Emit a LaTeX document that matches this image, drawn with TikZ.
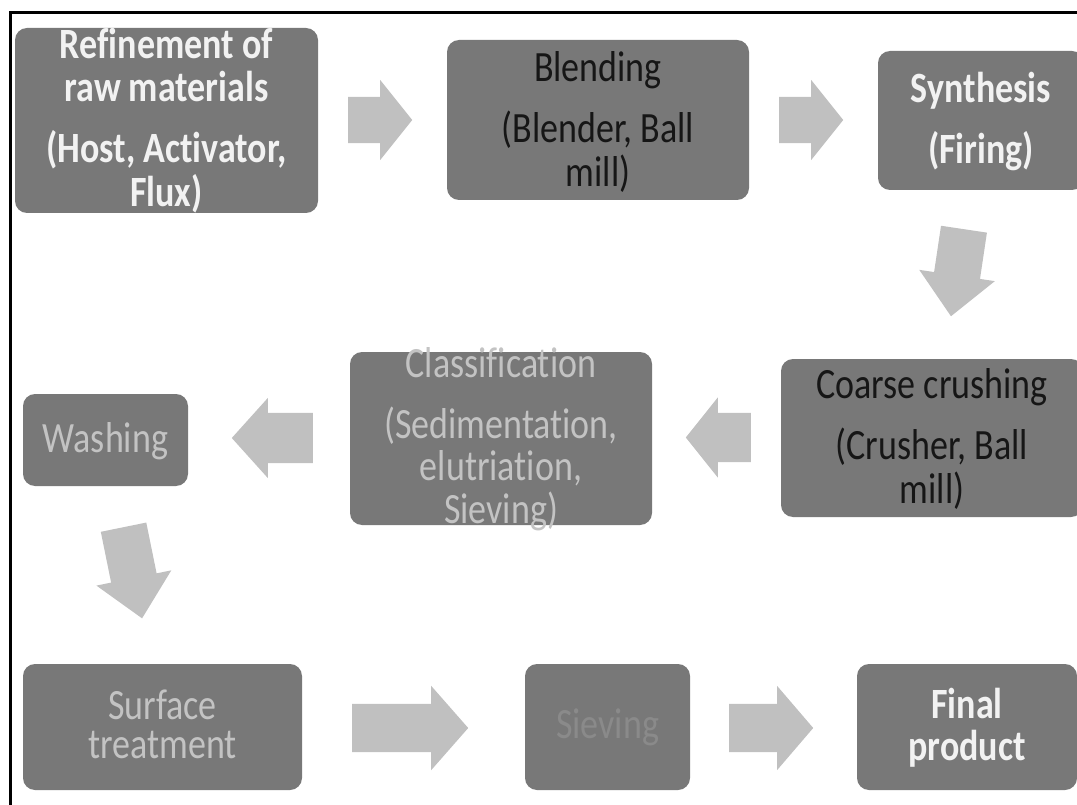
\documentclass[tikz,border=0pt]{standalone}
\usepackage{fontspec}
\setmainfont{Carlito}[RawFeature={-liga;-clig;-dlig;-rlig;-calt}]
\usepackage{graphicx}
\usetikzlibrary{shapes.arrows}

\definecolor{boxgray}{HTML}{787878}
\definecolor{arrowgray}{HTML}{C0C0C0}
\definecolor{paletext}{HTML}{C3C3C3}
\definecolor{dimtext}{HTML}{8A8A8A}
\definecolor{darktext}{HTML}{161616}
\definecolor{offwhite}{HTML}{F2F2F2}

\newcommand{\stagelines}[2][\mdseries]{\scalebox{1}[1.2]{\fontsize{36}{33}\selectfont#1\begin{tabular}{@{}c@{}}#2\end{tabular}}}

\tikzset{
  stage/.style={rectangle, rounded corners=12pt, fill=boxgray, inner sep=0pt},
  stagetext/.style={text=#1, inner sep=0pt},
  flowarrow/.style n args={4}{single arrow, fill=arrowgray, draw=none, anchor=tail,
    inner xsep=0pt, inner ysep=#2, minimum width=0pt, minimum height=#1,
    single arrow head extend=#3, single arrow tip angle=#4},
}

\begin{document}
\begin{tikzpicture}[x=1pt,y=-1pt]
  \useasboundingbox (0,0) rectangle (1077,805);
  \clip (0,0) rectangle (1077,805);
  \fill[white] (0,0) rectangle (1077,805);
  \draw[line width=3pt] (10,820) -- (10,12.5) -- (1095,12.5);

  \node[stage, minimum width=303pt, minimum height=185pt,
    label={[stagetext=offwhite, yshift=-3pt]center:{\stagelines[\bfseries]{Refinement of\\raw materials\\[14.5pt](Host, Activator,\\Flux)}}}] (refine) at (166.5,120.5) {};
  \node[stage, minimum width=302pt, minimum height=160pt,
    label={[stagetext=darktext, yshift=-5pt]center:{\stagelines{Blending\\[14.5pt](Blender, Ball\\mill)}}}] (blend) at (598,120) {};
  \node[stage, minimum width=206pt, minimum height=139pt,
    label={[stagetext=offwhite, yshift=-3pt]center:{\stagelines[\bfseries]{Synthesis\\[14.5pt](Firing)}}}] (synth) at (981,120.5) {};
  \node[stage, minimum width=302pt, minimum height=158pt,
    label={[stagetext=darktext, yshift=-4pt]center:{\stagelines{Coarse crushing\\[14.5pt](Crusher, Ball\\mill)}}}] (crush) at (932,438) {};
  \node[stage, minimum width=302pt, minimum height=173pt,
    label={[stagetext=paletext, yshift=-3pt]center:{\stagelines{Classification\\[14.5pt](Sedimentation,\\elutriation,\\Sieving)}}}] (classify) at (501,438.5) {};
  \node[stage, minimum width=165pt, minimum height=92pt,
    label={[stagetext=paletext, yshift=-3pt]center:{\stagelines{Washing}}}] (wash) at (105.5,440) {};
  \node[stage, minimum width=279pt, minimum height=126pt,
    label={[stagetext=paletext, yshift=-3pt]center:{\stagelines{Surface\\treatment}}}] (surface) at (162.5,727) {};
  \node[stage, minimum width=165pt, minimum height=126pt,
    label={[stagetext=dimtext, yshift=-3pt]center:{\stagelines{Sieving}}}] (sieve) at (607.5,727) {};
  \node[stage, minimum width=220pt, minimum height=126pt,
    label={[stagetext=offwhite, yshift=-3pt]center:{\stagelines[\bfseries]{Final\\product}}}] (final) at (967,727) {};

  \node[flowarrow={64pt}{23pt}{17pt}{102.7}] (a1) at (348,120) {};
  \node[flowarrow={64pt}{23pt}{17pt}{102.7}] (a2) at (779,120) {};
  \node[flowarrow={88pt}{23pt}{15pt}{85.7}, rotate=-98.5] (a3) at (964,229) {};
  \node[flowarrow={65pt}{24.5pt}{15.5pt}{102.7}, rotate=180] (a4) at (751,437.5) {};
  \node[flowarrow={81pt}{25pt}{15pt}{96}, rotate=180] (a5) at (313,438) {};
  \node[flowarrow={93pt}{23pt}{15pt}{85.7}, rotate=-78.5] (a6) at (123.5,527) {};
  \node[flowarrow={116pt}{24pt}{18pt}{97.4}] (a7) at (352,728) {};
  \node[flowarrow={84pt}{24pt}{18pt}{98.8}] (a8) at (729,728) {};
\end{tikzpicture}
\end{document}
